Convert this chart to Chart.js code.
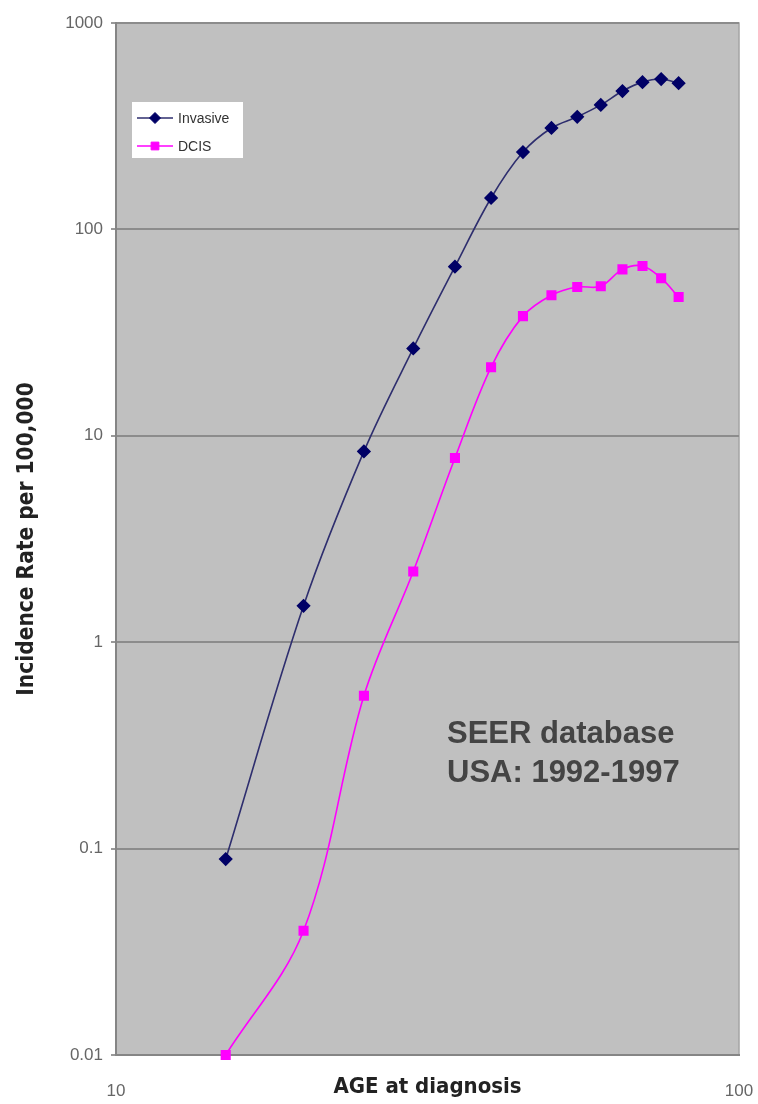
<!DOCTYPE html>
<html>
<head>
<meta charset="utf-8">
<script src="https://cdn.jsdelivr.net/npm/chart.js@4"></script>
<style>
  body { margin: 0; background: #fff; }
  canvas { display: block; }
</style>
</head>
<body>
<canvas id="chart" width="758" height="1104"></canvas>
<script>
const ages = [15, 20, 25, 30, 35, 40, 45, 50, 55, 60, 65, 70, 75, 80];
const invasive = [0.089, 1.5, 8.4, 26.5, 66, 142, 237, 310, 351, 401, 468, 517, 535, 511];
const dcis = [0.01, 0.04, 0.55, 2.2, 7.8, 21.5, 38, 48, 52.6, 53, 64, 66.5, 58, 47];
const yTicks = [0.01, 0.1, 1, 10, 100, 1000];
const xTicks = [10, 100];
const noteLines = ["SEER database", "USA: 1992-1997"];

const narrowBold = "'Liberation Sans Narrow', 'Arial Narrow', 'DejaVu Sans Condensed', Arial, sans-serif";

function toPoints(values) {
  return ages.map((a, i) => ({ x: a, y: values[i] }));
}

// grey plot area with a thin frame, like the spreadsheet chart
const plotBackground = {
  id: "plotBackground",
  beforeDraw(chart) {
    const { ctx, chartArea: a } = chart;
    ctx.save();
    ctx.fillStyle = "#c0c0c0";
    ctx.fillRect(a.left, a.top, a.right - a.left, a.bottom - a.top);
    ctx.strokeStyle = "#a4a4a4";
    ctx.lineWidth = 1.5;
    ctx.beginPath();
    ctx.moveTo(a.left, a.top);
    ctx.lineTo(a.right, a.top);
    ctx.lineTo(a.right, a.bottom);
    ctx.stroke();
    ctx.restore();
  }
};

// legend box inside the plot + the SEER note
const overlay = {
  id: "overlay",
  afterDatasetsDraw(chart) {
    const { ctx } = chart;
    ctx.save();
    ctx.fillStyle = "#fff";
    ctx.fillRect(132, 102, 111, 56);

    chart.data.datasets.forEach((ds, i) => {
      const y = 118 + i * 28;
      ctx.strokeStyle = ds.borderColor;
      ctx.lineWidth = 1.5;
      ctx.beginPath();
      ctx.moveTo(137, y);
      ctx.lineTo(173, y);
      ctx.stroke();
      ctx.fillStyle = ds.pointBackgroundColor;
      ctx.strokeStyle = ds.pointBorderColor;
      ctx.lineWidth = 1;
      Chart.helpers.drawPoint(ctx, { pointStyle: ds.pointStyle, radius: 5.5, borderWidth: 1 }, 155, y);
      ctx.fillStyle = "#333";
      ctx.font = "14px Arial, 'Liberation Sans', sans-serif";
      ctx.textBaseline = "middle";
      ctx.textAlign = "left";
      ctx.fillText(ds.label, 178, y + 1);
    });

    ctx.fillStyle = "#444";
    ctx.font = "bold 31px Arial, 'Liberation Sans', sans-serif";
    ctx.textBaseline = "alphabetic";
    noteLines.forEach((t, i) => ctx.fillText(t, 447, 743 + i * 39));
    ctx.restore();
  }
};

new Chart(document.getElementById("chart"), {
  type: "line",
  data: {
    datasets: [
      {
        label: "Invasive",
        data: toPoints(invasive),
        borderColor: "#2e2e6e",
        borderWidth: 1.6,
        pointStyle: "rectRot",
        pointRadius: 6,
        pointBackgroundColor: "#000066",
        pointBorderColor: "#000066",
        tension: 0.35,
        clip: false
      },
      {
        label: "DCIS",
        data: toPoints(dcis),
        borderColor: "#ff00ff",
        borderWidth: 1.6,
        pointStyle: "rect",
        pointRadius: 6,
        pointBackgroundColor: "#ff00ff",
        pointBorderColor: "#ff00ff",
        tension: 0.35,
        clip: false
      }
    ]
  },
  options: {
    responsive: false,
    animation: false,
    layout: { padding: { left: 0, top: 23, right: 19, bottom: 0 } },
    plugins: {
      legend: { display: false },
      tooltip: { enabled: false }
    },
    scales: {
      x: {
        type: "logarithmic",
        position: "bottom",
        min: 10,
        max: 100,
        afterBuildTicks(scale) {
          scale.ticks = xTicks.map(v => ({ value: v }));
        },
        afterFit(scale) {
          scale.height = 49;
          scale.paddingLeft = 0;
          scale.paddingRight = 0;
        },
        grid: { display: false },
        border: { display: true, color: "#858585", width: 2 },
        ticks: {
          padding: 18,
          color: "#666",
          font: { family: "Arial, 'Liberation Sans', sans-serif", size: 17 },
          maxRotation: 0,
          callback: v => String(v)
        },
        title: {
          display: true,
          text: "AGE at diagnosis",
          color: "#222",
          font: { family: narrowBold, size: 22, weight: "bold" },
          padding: { top: 0, bottom: 4 }
        }
      },
      y: {
        type: "logarithmic",
        min: 0.01,
        max: 1000,
        afterBuildTicks(scale) {
          scale.ticks = yTicks.map(v => ({ value: v }));
        },
        afterFit(scale) { scale.width = 116; },
        grid: {
          color: "#8c8c8c",
          lineWidth: 2,
          drawTicks: true,
          tickLength: 5,
          tickColor: "#999"
        },
        border: { display: true, color: "#858585", width: 2 },
        ticks: {
          padding: 8,
          color: "#666",
          font: { family: "Arial, 'Liberation Sans', sans-serif", size: 17 },
          callback: v => String(v)
        },
        title: {
          display: true,
          text: "Incidence Rate per 100,000",
          color: "#222",
          font: { family: narrowBold, size: 22.5, weight: "bold" },
          padding: { top: 14, bottom: 0 }
        }
      }
    }
  },
  plugins: [plotBackground, overlay]
});
</script>
</body>
</html>
